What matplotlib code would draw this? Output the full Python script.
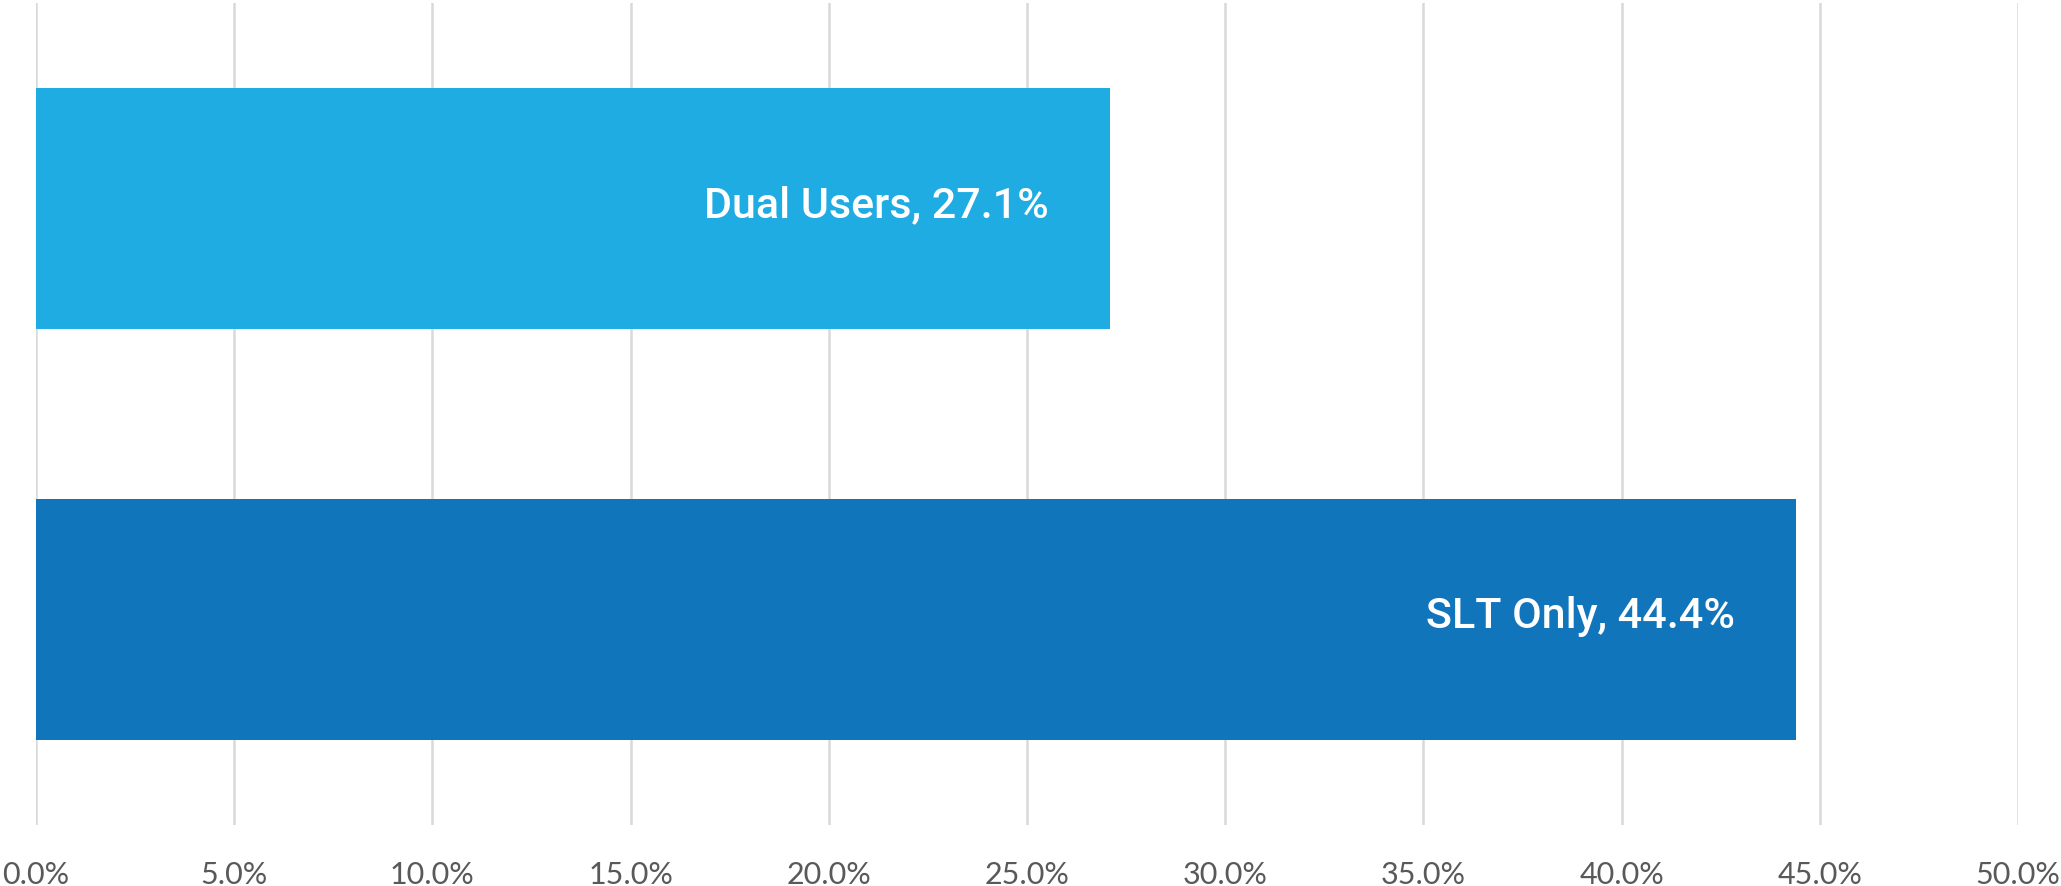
import matplotlib
matplotlib.use("Agg")
import matplotlib.pyplot as plt
from matplotlib.ticker import FuncFormatter

categories = ["SLT Only", "Dual Users"]
values = [44.4, 27.1]
colors = ["#1175BC", "#1FACE3"]
xticks = [0, 5, 10, 15, 20, 25, 30, 35, 40, 45, 50]

fig = plt.figure(figsize=(20.61, 8.87), dpi=100)
ax = fig.add_axes([36/2061, 1-826/887, (2018-36)/2061, (826-4)/887])

ypos = list(range(len(categories)))
bars = ax.barh(ypos, values, height=0.586, color=colors, zorder=2)
for y, v, c in zip(ypos, values, categories):
    ax.text(v - 1.55, y + 0.01, f"{c}, {v:.1f}%", ha="right", va="center",
            color="white", fontsize=31, fontweight="medium",
            family=["Roboto", "DejaVu Sans"], zorder=3)

ax.set_xlim(0, 50)
ax.set_ylim(-0.5, 1.5)
ax.set_xticks(xticks)
ax.xaxis.set_major_formatter(FuncFormatter(lambda x, p: f"{x:.1f}%"))
ax.set_yticks([])
ax.grid(axis="x", color="#D9D9D9", linewidth=1.8, zorder=0)
for s in ax.spines.values():
    s.set_visible(False)
ax.tick_params(axis="x", length=0, pad=25, labelsize=22, labelcolor="#595959")
for lab in ax.get_xticklabels():
    lab.set_family(["Lato", "DejaVu Sans"])

fig.savefig("out.png", dpi=100, facecolor="white")
